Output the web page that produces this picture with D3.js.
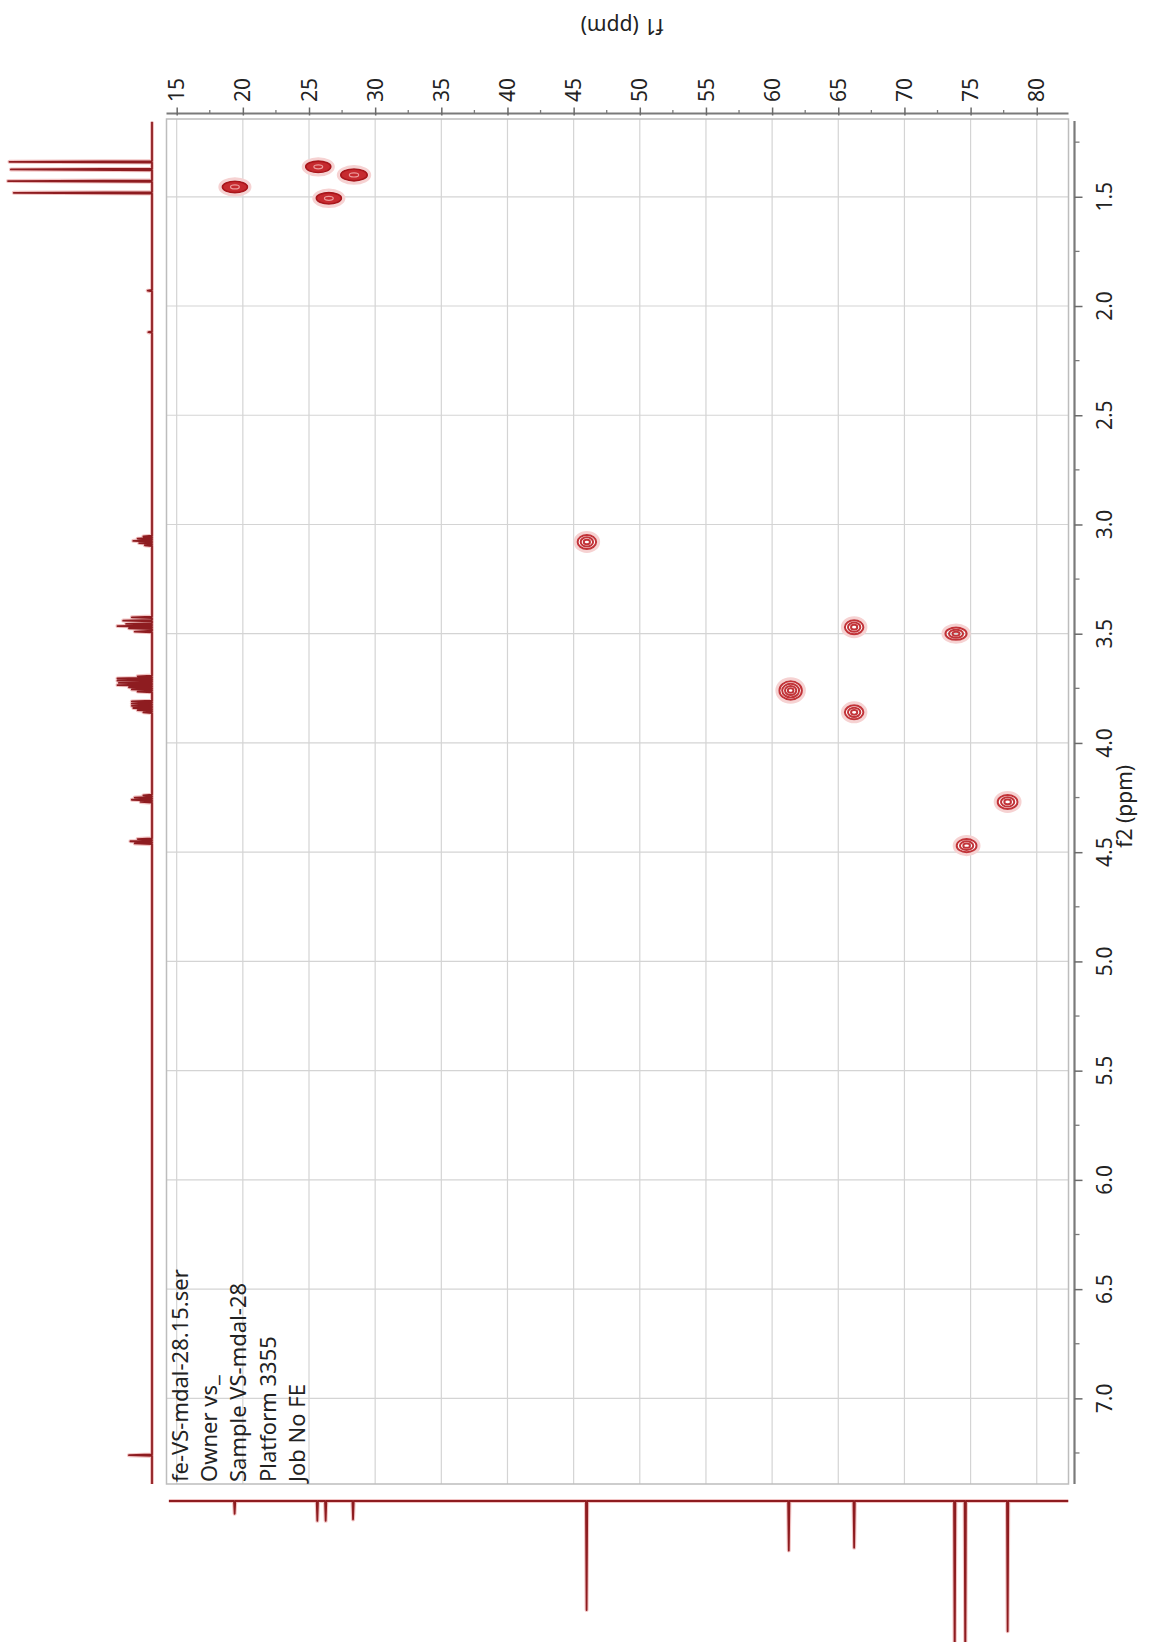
<!DOCTYPE html>
<html>
<head>
<meta charset="utf-8">
<script src="https://cdn.jsdelivr.net/npm/d3@7"></script>
<style>
  html, body { margin: 0; padding: 0; background: #ffffff; }
  svg { display: block; }
  text { font-family: "Noto Sans", "Open Sans", sans-serif; fill: #222; }
</style>
</head>
<body>
<svg id="chart" width="1149" height="1642"></svg>
<script>
// HSQC cross peaks: carbon shift (f1), proton shift (f2), half-widths and contour depth
const peakF1 = [19.4, 25.7, 28.4, 26.5, 46.0, 61.4, 66.2, 66.2, 73.9, 77.8, 74.7];
const peakF2 = [1.455, 1.363, 1.400, 1.507, 3.08, 3.76, 3.47, 3.86, 3.50, 4.27, 4.47];
const peakHalfF1 = [0.95, 0.95, 1.0, 0.95, 0.70, 0.85, 0.70, 0.70, 0.80, 0.75, 0.75];
const peakHalfF2 = [0.026, 0.026, 0.027, 0.026, 0.032, 0.042, 0.032, 0.032, 0.028, 0.032, 0.030];
const peakLevels = [6, 6, 6, 6, 3, 4, 3, 3, 3, 3, 3];

// 1H projection: shift (ppm) and relative intensity
const protonShift = [1.340, 1.375, 1.428, 1.482, 1.93, 2.12,
  3.055, 3.065, 3.075, 3.085, 3.095,
  3.425, 3.44, 3.455, 3.465, 3.475, 3.49,
  3.695, 3.705, 3.715, 3.725, 3.735, 3.745, 3.755, 3.765,
  3.810, 3.820, 3.830, 3.840, 3.850, 3.860,
  4.240, 4.250, 4.260, 4.270,
  4.440, 4.450, 4.460,
  7.26];
const protonHeight = [99, 98, 100, 96, 3, 2.5,
  6, 10, 13, 9, 5,
  14, 20, 18, 24, 16, 12,
  10, 24, 24, 23, 24, 16, 14, 10,
  14, 14, 14, 13, 10, 6,
  6, 12, 14, 8,
  10, 15, 12,
  16];

// 13C projection: shift (ppm) and relative intensity
const carbonShift = [19.38, 25.63, 26.26, 28.33, 45.98, 61.26, 66.2, 73.8, 74.6, 77.8];
const carbonHeight = [9, 14, 14, 13, 77, 35, 33, 120, 120, 92];

// axis ticks
const f1Ticks = [15, 20, 25, 30, 35, 40, 45, 50, 55, 60, 65, 70, 75, 80];
const f1Minor = [17.5, 22.5, 27.5, 32.5, 37.5, 42.5, 47.5, 52.5, 57.5, 62.5, 67.5, 72.5, 77.5, 82.5];
const f2Ticks = [1.5, 2.0, 2.5, 3.0, 3.5, 4.0, 4.5, 5.0, 5.5, 6.0, 6.5, 7.0];
const f2Minor = [1.25, 1.75, 2.25, 2.75, 3.25, 3.75, 4.25, 4.75, 5.25, 5.75, 6.25, 6.75, 7.25];

const infoLines = ["fe-VS-mdal-28.15.ser", "Owner vs_", "Sample VS-mdal-28", "Platform 3355", "Job No FE"];

const svg = d3.select("#chart");
svg.append("rect").attr("width", 1149).attr("height", 1642).attr("fill", "#fff");

// carbon axis runs left to right, proton axis runs top to bottom
const x = d3.scaleLinear().domain([14.23, 82.40]).range([166.5, 1068.5]);
const y = d3.scaleLinear().domain([1.144, 7.392]).range([119, 1484]);

const box = { x0: x.range()[0], x1: x.range()[1], y0: y.range()[0], y1: y.range()[1] };

// grid
const grid = svg.append("g").attr("stroke", "#d4d4d4").attr("stroke-width", 1.2);
grid.selectAll("line.v").data(f1Ticks).join("line")
  .attr("x1", d => x(d)).attr("x2", d => x(d)).attr("y1", box.y0).attr("y2", box.y1);
grid.selectAll("line.h").data(f2Ticks).join("line")
  .attr("x1", box.x0).attr("x2", box.x1).attr("y1", d => y(d)).attr("y2", d => y(d));

svg.append("rect").attr("x", box.x0).attr("y", box.y0)
  .attr("width", box.x1 - box.x0).attr("height", box.y1 - box.y0)
  .attr("fill", "none").attr("stroke", "#bdbdbd").attr("stroke-width", 1.5);

// top axis (f1)
const topAxisY = 113.5;
const topAxis = d3.axisTop(x).tickValues(f1Ticks).tickSize(6).tickFormat("");
const gTop = svg.append("g").attr("transform", `translate(0,${topAxisY})`).call(topAxis);
gTop.select(".domain").attr("stroke", "#7a7a7a").attr("stroke-width", 2.2)
  .attr("d", `M${box.x0},0H${box.x1}`);
gTop.selectAll(".tick line").attr("stroke", "#6a6a6a").attr("stroke-width", 1.5).attr("y2", -6).attr("y1", 2);
svg.append("g").attr("transform", `translate(0,${topAxisY})`)
  .selectAll("line").data(f1Minor.filter(v => x(v) < box.x1)).join("line")
  .attr("x1", d => x(d)).attr("x2", d => x(d)).attr("y1", 0).attr("y2", -3.5)
  .attr("stroke", "#7a7a7a").attr("stroke-width", 1.3);
svg.append("g").selectAll("text").data(f1Ticks).join("text")
  .attr("transform", d => `translate(${x(d)},102) rotate(-90)`)
  .attr("dy", "0.36em").attr("text-anchor", "start")
  .style("font-size", "21px").text(d => d);

// right axis (f2)
const rightAxisX = 1074.5;
const rightAxis = d3.axisRight(y).tickValues(f2Ticks).tickSize(8).tickFormat("");
const gRight = svg.append("g").attr("transform", `translate(${rightAxisX},0)`).call(rightAxis);
gRight.select(".domain").attr("stroke", "#7a7a7a").attr("stroke-width", 2.2)
  .attr("d", `M0,${box.y0 + 2}V${box.y1}`);
gRight.selectAll(".tick line").attr("stroke", "#6a6a6a").attr("stroke-width", 1.5);
svg.append("g").attr("transform", `translate(${rightAxisX},0)`)
  .selectAll("line").data(f2Minor).join("line")
  .attr("x1", 0).attr("x2", 5).attr("y1", d => y(d)).attr("y2", d => y(d))
  .attr("stroke", "#7a7a7a").attr("stroke-width", 1.3);
svg.append("g").selectAll("text").data(f2Ticks).join("text")
  .attr("transform", d => `translate(1112,${y(d)}) rotate(-90)`)
  .attr("text-anchor", "middle")
  .style("font-size", "21px").text(d => d.toFixed(1));

// axis titles
svg.append("text").attr("transform", "translate(622,26) rotate(180)")
  .attr("text-anchor", "middle").attr("dy", "0.35em")
  .style("font-size", "21px").text("f1 (ppm)");
svg.append("text").attr("transform", `translate(1132,${y(4.29)}) rotate(-90)`)
  .attr("text-anchor", "middle")
  .style("font-size", "21px").text("f2 (ppm)");

// experiment info block
svg.append("g").selectAll("text").data(infoLines).join("text")
  .attr("transform", (d, i) => `translate(${188 + i * 29.2},1482) rotate(-90)`)
  .attr("text-anchor", "start")
  .style("font-size", "22px").text(d => d);

// 1H projection (left), peaks pointing left
const hBase = 152;
const hScale = d3.scaleLinear().domain([0, 100]).range([hBase, 8]);
const hPeaks = d3.zip(protonShift, protonHeight).sort((a, b) => a[0] - b[0]);
const hPts = [[0, 1.157]];
const hHalf = 0.0035;
hPeaks.forEach(([s, h]) => { hPts.push([0, s - hHalf], [h, s], [0, s + hHalf]); });
hPts.push([0, 7.392]);
const hLine = d3.line().x(d => hScale(d[0])).y(d => y(d[1]));
svg.append("path").attr("d", hLine(hPts)).attr("fill", "none")
  .attr("stroke", "#f2c4c4").attr("stroke-width", 4).attr("stroke-linejoin", "round");
svg.append("path").attr("d", hLine(hPts)).attr("fill", "none")
  .attr("stroke", "#8e1c20").attr("stroke-width", 1.8).attr("stroke-linejoin", "round");

// 13C projection (bottom), peaks pointing down
const cBase = 1501;
const cScale = d3.scaleLinear().domain([0, 100]).range([cBase, cBase + 109 / 0.77]);
const cPeaks = d3.zip(carbonShift, carbonHeight).sort((a, b) => a[0] - b[0]);
const cPts = [[x.domain()[0] + 0.18, 0]];
const cHalf = 0.05;
cPeaks.forEach(([s, h]) => { cPts.push([s - cHalf, 0], [s, h], [s + cHalf, 0]); });
cPts.push([x.domain()[1] - 0.02, 0]);
const cLine = d3.line().x(d => x(d[0])).y(d => cScale(d[1]));
svg.append("path").attr("d", cLine(cPts)).attr("fill", "none")
  .attr("stroke", "#f2c4c4").attr("stroke-width", 4).attr("stroke-linejoin", "round");
svg.append("path").attr("d", cLine(cPts)).attr("fill", "none")
  .attr("stroke", "#8e1c20").attr("stroke-width", 1.8).attr("stroke-linejoin", "round");

// HSQC contours: nested ellipses per cross peak
const peaks = d3.range(peakF1.length).map(i => ({
  f1: peakF1[i], f2: peakF2[i], w1: peakHalfF1[i], w2: peakHalfF2[i], n: peakLevels[i]
}));
const gPeaks = svg.append("g");
peaks.forEach(p => {
  const cx = x(p.f1), cy = y(p.f2);
  const rx = x(p.f1 + p.w1) - cx, ry = y(p.f2 + p.w2) - cy;
  const g = gPeaks.append("g");
  // soft halo round the outer contour
  g.append("ellipse").attr("cx", cx).attr("cy", cy).attr("rx", rx + 2.5).attr("ry", ry + 2.5)
    .attr("fill", "none").attr("stroke", "#f6d2d2").attr("stroke-width", 3);
  if (p.n >= 5) {
    g.append("ellipse").attr("cx", cx).attr("cy", cy).attr("rx", rx).attr("ry", ry)
      .attr("fill", "#c62a2f").attr("stroke", "#a8161b").attr("stroke-width", 1.6);
    g.append("ellipse").attr("cx", cx).attr("cy", cy).attr("rx", rx * 0.35).attr("ry", ry * 0.35)
      .attr("fill", "none").attr("stroke", "#ec9a9a").attr("stroke-width", 1.2);
  } else {
    d3.range(p.n).forEach(k => {
      const f = 1 - k / p.n;
      g.append("ellipse").attr("cx", cx).attr("cy", cy)
        .attr("rx", Math.max(rx * f, 1.2)).attr("ry", Math.max(ry * f, 1.2))
        .attr("fill", "none").attr("stroke", "#c23338").attr("stroke-width", 2);
    });
  }
});
</script>
</body>
</html>
